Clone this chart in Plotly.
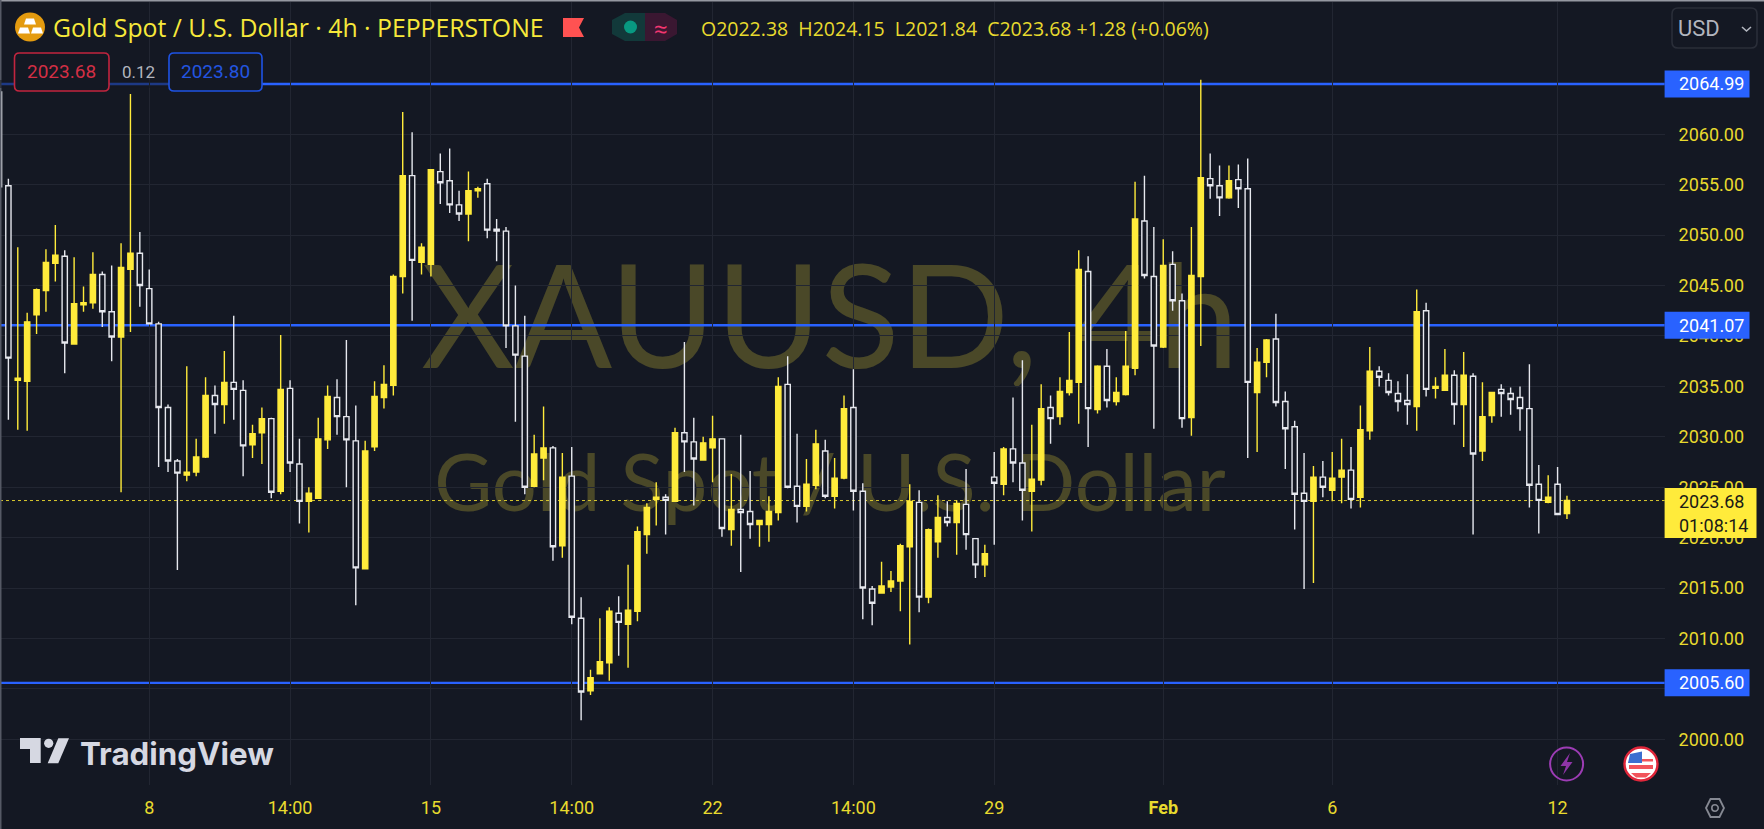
import plotly.graph_objects as go

W, H = 1764, 829

BAR_INDEX = list(range(-1, 167))
OPEN = [2064.2, 2054.9, 2035.6, 2035.5, 2042.1, 2044.5, 2047.2, 2047.9, 2039.2, 2043.1,
        2043.3, 2046.1, 2042.4, 2039.9, 2046.6, 2048.2, 2044.7, 2041.2, 2032.9, 2027.6,
        2026.2, 2026.5, 2028.0, 2034.1, 2033.2, 2035.4, 2034.6, 2029.2, 2030.4, 2031.8,
        2024.6, 2034.8, 2027.3, 2023.6, 2023.9, 2029.7, 2033.9, 2032.0, 2029.6, 2016.9,
        2029.0, 2033.9, 2035.1, 2045.9, 2055.9, 2047.3, 2047.1, 2056.3, 2055.4, 2053.0,
        2052.1, 2054.4, 2055.1, 2050.6, 2050.4, 2041.0, 2038.0, 2025.1, 2027.9, 2028.9,
        2019.2, 2026.1, 2012.0, 2004.8, 2006.5, 2007.6, 2012.5, 2011.4, 2012.7, 2020.3,
        2023.8, 2024.0, 2023.6, 2030.4, 2029.5, 2027.7, 2028.9, 2029.8, 2020.8, 2022.8,
        2022.6, 2021.3, 2021.3, 2022.5, 2035.2, 2025.1, 2023.1, 2025.2, 2028.6, 2024.1,
        2025.9, 2032.9, 2024.6, 2014.9, 2014.5, 2015.1, 2015.7, 2019.1, 2023.5, 2014.1,
        2019.6, 2022.0, 2021.5, 2023.3, 2019.9, 2017.3, 2026.0, 2025.3, 2028.8, 2027.4,
        2024.6, 2025.7, 2032.9, 2032.0, 2034.4, 2035.4, 2046.4, 2032.7, 2037.0, 2033.5,
        2034.2, 2036.8, 2051.4, 2045.9, 2038.9, 2047.1, 2043.5, 2031.9, 2045.9, 2055.6,
        2054.9, 2053.7, 2055.5, 2054.6, 2034.4, 2037.4, 2039.7, 2033.5, 2031.0, 2024.4,
        2023.6, 2026.0, 2024.7, 2026.0, 2026.7, 2024.0, 2030.6, 2036.5, 2035.6, 2034.3,
        2033.6, 2033.0, 2042.5, 2034.8, 2034.6, 2036.1, 2033.2, 2036.0, 2028.6, 2032.1,
        2034.7, 2034.3, 2033.9, 2032.8, 2025.3, 2023.5, 2025.3, 2022.38]
HIGH = [2064.3, 2055.6, 2048.8, 2042.3, 2044.7, 2048.6, 2051.0, 2048.5, 2047.8, 2044.9,
        2048.3, 2046.4, 2047.0, 2049.2, 2064.0, 2050.3, 2046.6, 2041.4, 2033.2, 2027.8,
        2037.0, 2029.8, 2035.9, 2035.1, 2038.5, 2042.0, 2035.6, 2031.2, 2032.9, 2031.9,
        2040.1, 2035.6, 2029.8, 2025.0, 2031.9, 2035.1, 2035.7, 2039.6, 2033.1, 2029.6,
        2035.5, 2037.1, 2046.1, 2062.2, 2060.2, 2049.2, 2056.5, 2058.1, 2058.6, 2054.4,
        2056.3, 2054.8, 2055.6, 2051.6, 2050.8, 2045.0, 2042.0, 2030.2, 2033.0, 2029.1,
        2028.4, 2029.0, 2014.1, 2006.9, 2012.0, 2013.1, 2014.2, 2017.3, 2021.1, 2023.4,
        2025.5, 2024.3, 2030.9, 2039.4, 2031.9, 2030.0, 2032.1, 2029.8, 2026.3, 2030.2,
        2026.6, 2021.7, 2024.1, 2035.9, 2038.0, 2030.3, 2027.8, 2030.7, 2029.7, 2027.9,
        2034.1, 2036.7, 2025.4, 2015.2, 2017.6, 2016.7, 2019.4, 2025.3, 2024.7, 2020.9,
        2024.2, 2023.6, 2023.7, 2026.8, 2019.9, 2019.3, 2028.5, 2029.0, 2033.9, 2037.6,
        2031.2, 2035.2, 2034.1, 2035.9, 2040.4, 2048.5, 2047.9, 2037.1, 2038.7, 2035.9,
        2040.5, 2055.3, 2055.9, 2050.8, 2049.6, 2048.4, 2044.2, 2050.8, 2065.4, 2058.1,
        2056.9, 2056.9, 2057.0, 2057.6, 2038.8, 2039.7, 2042.2, 2034.5, 2031.6, 2028.4,
        2027.1, 2027.6, 2028.5, 2029.8, 2029.0, 2033.1, 2038.9, 2037.0, 2036.3, 2035.5,
        2036.2, 2044.6, 2043.3, 2035.9, 2038.7, 2036.6, 2038.4, 2036.3, 2035.4, 2034.4,
        2035.2, 2034.9, 2035.0, 2037.2, 2027.2, 2026.2, 2027.0, 2024.15]
LOW = [2054.7, 2031.7, 2030.7, 2030.6, 2040.2, 2042.4, 2045.4, 2036.3, 2039.2, 2042.4,
       2042.7, 2040.9, 2037.5, 2024.5, 2040.4, 2042.9, 2041.2, 2027.0, 2026.5, 2016.8,
       2025.6, 2026.1, 2027.9, 2030.3, 2031.3, 2031.7, 2026.1, 2027.9, 2027.3, 2023.9,
       2024.3, 2026.5, 2021.4, 2020.5, 2023.9, 2028.8, 2030.2, 2025.0, 2013.3, 2016.9,
       2028.6, 2032.8, 2034.1, 2044.2, 2041.5, 2046.1, 2045.9, 2053.1, 2052.2, 2051.4,
       2049.4, 2053.7, 2049.7, 2047.4, 2038.8, 2031.5, 2024.3, 2025.0, 2025.7, 2017.7,
       2018.0, 2011.4, 2001.9, 2004.4, 2006.5, 2005.8, 2008.3, 2007.1, 2011.7, 2018.4,
       2021.2, 2020.3, 2023.6, 2026.5, 2023.2, 2027.7, 2025.5, 2020.1, 2019.2, 2016.6,
       2019.9, 2019.1, 2019.6, 2021.7, 2024.9, 2021.5, 2022.6, 2024.8, 2023.9, 2022.9,
       2025.8, 2022.7, 2011.9, 2011.3, 2014.5, 2014.6, 2012.7, 2009.4, 2012.6, 2013.5,
       2018.0, 2021.1, 2018.3, 2018.8, 2016.0, 2016.1, 2019.3, 2024.2, 2025.5, 2021.7,
       2020.6, 2025.2, 2029.3, 2031.2, 2034.1, 2031.3, 2029.0, 2032.3, 2032.9, 2033.1,
       2034.1, 2036.1, 2045.7, 2030.8, 2038.8, 2042.5, 2030.9, 2030.1, 2039.0, 2053.6,
       2051.9, 2053.6, 2052.7, 2027.9, 2028.5, 2035.9, 2033.0, 2026.8, 2020.8, 2014.9,
       2015.5, 2024.0, 2023.6, 2023.4, 2022.9, 2023.0, 2029.7, 2035.0, 2034.1, 2032.5,
       2031.2, 2030.6, 2034.0, 2033.8, 2034.6, 2031.2, 2029.0, 2020.3, 2027.6, 2031.4,
       2032.0, 2032.2, 2030.6, 2023.0, 2020.4, 2023.4, 2022.3, 2021.84]
CLOSE = [2054.8, 2037.8, 2035.8, 2041.4, 2044.6, 2047.3, 2048.0, 2039.3, 2043.2, 2043.3,
         2046.1, 2042.4, 2039.9, 2046.8, 2048.2, 2045.0, 2041.2, 2032.9, 2027.6, 2026.4,
         2026.5, 2028.0, 2034.1, 2033.2, 2035.4, 2034.7, 2029.1, 2030.3, 2031.8, 2024.5,
         2034.7, 2027.4, 2023.6, 2024.4, 2029.8, 2034.0, 2032.0, 2029.7, 2017.0, 2028.6,
         2034.0, 2035.2, 2045.9, 2055.9, 2047.5, 2048.8, 2056.5, 2055.2, 2053.0, 2052.1,
         2054.4, 2054.6, 2050.5, 2050.4, 2041.0, 2038.1, 2025.0, 2028.3, 2028.9, 2019.1,
         2026.0, 2012.1, 2004.7, 2006.1, 2007.7, 2012.7, 2011.6, 2012.8, 2020.6, 2023.0,
         2024.0, 2023.7, 2030.4, 2029.5, 2027.8, 2029.4, 2029.8, 2020.9, 2022.8, 2022.5,
         2021.3, 2021.7, 2022.6, 2035.0, 2025.0, 2023.1, 2025.3, 2029.3, 2024.1, 2025.9,
         2032.8, 2024.6, 2015.0, 2013.5, 2015.2, 2015.7, 2019.2, 2023.6, 2014.1, 2020.8,
         2022.0, 2021.5, 2023.4, 2020.3, 2017.3, 2018.4, 2025.4, 2028.8, 2027.4, 2024.7,
         2025.8, 2032.8, 2031.8, 2034.5, 2035.6, 2046.6, 2032.8, 2037.0, 2033.6, 2034.4,
         2037.0, 2051.6, 2046.0, 2039.0, 2047.0, 2043.5, 2031.8, 2046.0, 2055.7, 2054.9,
         2053.7, 2055.4, 2054.6, 2035.4, 2037.4, 2039.6, 2033.4, 2030.8, 2024.3, 2023.6,
         2026.0, 2025.0, 2025.9, 2026.7, 2023.8, 2030.7, 2036.5, 2035.9, 2034.4, 2033.5,
         2033.2, 2042.4, 2034.7, 2035.0, 2036.1, 2033.2, 2036.1, 2028.3, 2032.0, 2034.4,
         2034.3, 2033.7, 2032.8, 2025.2, 2023.7, 2024.0, 2022.3, 2023.68]

PRICE_TICKS = [2000, 2005, 2010, 2015, 2020, 2025, 2030, 2035, 2040, 2045, 2050, 2055, 2060]
PRICE_LABELS = ["2000.00", "2005.00", "2010.00", "2015.00", "2020.00", "2025.00", "2030.00",
                "2035.00", "2040.00", "2045.00", "2050.00", "2055.00", "2060.00"]
TIME_TICKS = [15, 30, 45, 60, 75, 90, 105, 123, 141, 165]
TIME_LABELS = ["8", "14:00", "15", "14:00", "22", "14:00", "29", "<b>Feb</b>", "6", "12"]
LEVELS = [2064.99, 2041.07, 2005.60]
LAST_PRICE = 2023.68

BG = "#141823"
YELLOW = "#FFEB3B"
TICK_YEL = "#E8DA2E"
BLUE = "#2962FF"
GRID = "#222632"
AXIS_RIGHT = 1664.6
AXIS_BOTTOM = 785.0
FONT = "Open Sans"
MARK = "Lato"
AXFONT = "Roboto"


def X(px):
    return px / W


def Y(py):
    return 1 - py / H


def poly(points, fill=None, line=None, lw=1, layer="above"):
    path = "M " + " L ".join(f"{X(a):.5f},{Y(b):.5f}" for a, b in points) + " Z"
    return dict(type="path", xref="paper", yref="paper", path=path, fillcolor=fill or "rgba(0,0,0,0)",
                line=dict(color=line or "rgba(0,0,0,0)", width=lw if line else 0), layer=layer)


def rect(x0, y0, x1, y1, fill=None, line=None, lw=1, layer="above"):
    return dict(type="rect", xref="paper", yref="paper", x0=X(x0), x1=X(x1), y0=Y(y0), y1=Y(y1),
                fillcolor=fill or "rgba(0,0,0,0)",
                line=dict(color=line or "rgba(0,0,0,0)", width=lw if line else 0), layer=layer)


def round_rect(x0, y0, x1, y1, r, fill=None, line=None, lw=1.5):
    pts = (f"M {X(x0 + r):.5f},{Y(y0):.5f} L {X(x1 - r):.5f},{Y(y0):.5f} "
           f"Q {X(x1):.5f},{Y(y0):.5f} {X(x1):.5f},{Y(y0 + r):.5f} L {X(x1):.5f},{Y(y1 - r):.5f} "
           f"Q {X(x1):.5f},{Y(y1):.5f} {X(x1 - r):.5f},{Y(y1):.5f} L {X(x0 + r):.5f},{Y(y1):.5f} "
           f"Q {X(x0):.5f},{Y(y1):.5f} {X(x0):.5f},{Y(y1 - r):.5f} L {X(x0):.5f},{Y(y0 + r):.5f} "
           f"Q {X(x0):.5f},{Y(y0):.5f} {X(x0 + r):.5f},{Y(y0):.5f} Z")
    return dict(type="path", xref="paper", yref="paper", path=pts, fillcolor=fill or "rgba(0,0,0,0)",
                line=dict(color=line or "rgba(0,0,0,0)", width=lw if line else 0), layer="above")


def circle(cx, cy, rx, ry, fill=None, line=None, lw=1.5):
    return dict(type="circle", xref="paper", yref="paper", x0=X(cx - rx), x1=X(cx + rx), y0=Y(cy + ry), y1=Y(cy - ry),
                fillcolor=fill or "rgba(0,0,0,0)",
                line=dict(color=line or "rgba(0,0,0,0)", width=lw if line else 0), layer="above")


def text(px, py, s, size, color, anchor="left", family=FONT, **kw):
    return dict(xref="paper", yref="paper", x=X(px), y=Y(py), text=s, showarrow=False, xanchor=anchor,
                yanchor="middle", font=dict(size=size, color=color, family=family), **kw)


fig = go.Figure()
fig.add_trace(go.Candlestick(
    x=BAR_INDEX, open=OPEN, high=HIGH, low=LOW, close=CLOSE,
    increasing=dict(line=dict(color=YELLOW, width=1.4), fillcolor=YELLOW),
    decreasing=dict(line=dict(color="#E6E8EE", width=1.4), fillcolor=BG),
    whiskerwidth=0, showlegend=False, hoverinfo="skip",
))

shapes = []
# watermark (below candles)
for x0, y0, x1, y1, s, size in [(420, 230, 1240, 390, "XAUUSD, 4h", 144), (420, 433.5, 1240, 523.5, "Gold Spot / U.S. Dollar", 79.5)]:
    shapes.append(dict(type="rect", xref="paper", yref="paper", x0=X(x0), x1=X(x1), y0=Y(y1), y1=Y(y0),
                       line=dict(width=0), fillcolor="rgba(0,0,0,0)", layer="below",
                       label=dict(text=s, textposition="middle center",
                                  font=dict(size=size, family=MARK, color="rgba(255,235,59,0.23)"))))
# levels
for lv in LEVELS:
    shapes.append(dict(type="line", xref="paper", yref="y", x0=0, x1=X(AXIS_RIGHT), y0=lv, y1=lv,
                       line=dict(color=BLUE, width=2.4), layer="below"))
shapes.append(dict(type="line", xref="paper", yref="y", x0=0, x1=X(AXIS_RIGHT), y0=LAST_PRICE, y1=LAST_PRICE,
                   line=dict(color="#D9C92F", width=1, dash="dot"), layer="below"))
# frame
shapes.append(rect(0, 0, W, 1.5, fill="#9598A1"))
shapes.append(rect(0, 0, 1.5, H, fill="#555965"))
# gold icon
shapes.append(circle(30, 27, 15, 14.5, fill="#E49B0F"))
for cx, cy in [(30, 21.5), (24, 30.5), (37, 30.5)]:
    shapes.append(poly([(cx - 4, cy - 3), (cx + 4, cy - 3), (cx + 6, cy + 3), (cx - 6, cy + 3)], fill="#FFFFFF"))
# flag
shapes.append(poly([(563, 18), (584, 18), (579, 27.5), (584, 37), (563, 37)], fill="#FF5252"))
# status pill
shapes.append(poly([(625, 13), (645, 13), (645, 41), (625, 41), (612, 34), (612, 20)], fill="#12393A"))
shapes.append(poly([(645, 13), (665, 13), (677, 20), (677, 34), (665, 41), (645, 41)], fill="#3A1731"))
shapes.append(circle(630.5, 27, 6.5, 6.5, fill="#089981"))
# left quote boxes
shapes.append(rect(0, 80, 262, 88, fill="rgba(20,24,35,0.55)"))
shapes.append(round_rect(14.5, 53, 109, 91, 5, fill=BG, line="#C2253F", lw=1.6))
shapes.append(round_rect(169, 53, 262, 91, 5, fill=BG, line="#1E53E5", lw=1.6))
# USD button
shapes.append(round_rect(1672, 8, 1757, 48, 6, line="#2A2E39", lw=1.6))
shapes.append(poly([(1742, 27), (1746.5, 31), (1751, 27), (1746.5, 31)], line="#B2B5BE", lw=1.6))
# TradingView logo
shapes.append(poly([(20, 738), (40.7, 738), (40.7, 763), (30, 763), (30, 749), (20, 749)], fill="#D6D8E2"))
shapes.append(circle(48.7, 743.3, 4.6, 4.6, fill="#D6D8E2"))
shapes.append(poly([(58.3, 738.3), (69, 738.3), (58.3, 763.3), (47.7, 763.3)], fill="#D6D8E2"))
# bolt icon
shapes.append(circle(1566.6, 764, 16.5, 16.5, line="#9C3CB4", lw=2))
shapes.append(poly([(1570, 753), (1560.5, 766), (1566, 766), (1563, 775), (1572.5, 762), (1567, 762)], fill="#8E35A8"))
# US flag icon
shapes.append(circle(1641, 764, 16.5, 16.5, fill="#FFFFFF", line="#E0263A", lw=2.4))
shapes.append(poly([(1629, 765), (1653, 765), (1653, 769), (1629, 769)], fill="#F2545B"))
shapes.append(poly([(1631, 773), (1651, 773), (1646, 777.5), (1636, 777.5)], fill="#F2545B"))
shapes.append(poly([(1629, 759), (1653, 759), (1653, 761.5), (1629, 761.5)], fill="#F2545B"))
shapes.append(poly([(1630, 754), (1642, 751.5), (1642, 763), (1628, 763)], fill="#3C6FD0"))
# settings hexagon
shapes.append(poly([(1706, 808), (1710.5, 799), (1719.5, 799), (1724, 808), (1719.5, 817), (1710.5, 817)], line="#868993", lw=1.8))
shapes.append(circle(1715, 808, 3.2, 3.2, line="#868993", lw=1.6))
# price-axis tags
for lv in LEVELS:
    shapes.append(dict(type="rect", xref="paper", yref="y", x0=X(AXIS_RIGHT), x1=X(1749.5), y0=lv - 1.34, y1=lv + 1.34,
                       fillcolor=BLUE, line=dict(width=0), layer="above"))
shapes.append(rect(AXIS_RIGHT, 488, 1756.5, 538, fill=YELLOW))

ann = [
    text(51, 27, "Gold Spot / U.S. Dollar · 4h · PEPPERSTONE", 24.8, "#F7E83A"),
    text(699, 28, "O2022.38  H2024.15  L2021.84  C2023.68 +1.28 (+0.06%)", 19.5, TICK_YEL),
    text(660.5, 28, "≈", 24, "#F23670", anchor="center"),
    text(61.5, 72, "2023.68", 19, "#D32F45", anchor="center", family=AXFONT),
    text(138.5, 72, "0.12", 17, "#B2B5BE", anchor="center", family=AXFONT),
    text(215.5, 72, "2023.80", 19, "#2355E0", anchor="center", family=AXFONT),
    text(1676, 29, "USD", 22, "#B2B5BE", family=AXFONT),
    text(78, 754, "<b>TradingView</b>", 31.3, "#D6D8E2", family="Inter"),
    text(1677, 501.7, f"{LAST_PRICE:.2f}", 18, "#1A1A16", family=AXFONT),
    text(1677, 525, "01:08:14", 18, "#1A1A16", family=AXFONT),
]
for lv in LEVELS:
    ann.append(dict(xref="paper", yref="y", x=X(1677), y=lv, xanchor="left", yanchor="middle",
                    text=f"{lv:.2f}", showarrow=False, font=dict(size=18, color="#FFFFFF", family=AXFONT)))

fig.update_layout(
    width=W, height=H, margin=dict(l=0, r=0, t=0, b=0),
    paper_bgcolor=BG, plot_bgcolor=BG, showlegend=False, dragmode=False,
    boxgap=0.2,
    shapes=shapes, annotations=ann,
    xaxis=dict(domain=[0, X(AXIS_RIGHT)], range=[-0.894, 176.4], type="linear", rangeslider=dict(visible=False),
               tickmode="array", tickvals=TIME_TICKS, ticktext=TIME_LABELS, showgrid=True, gridcolor=GRID, gridwidth=1,
               zeroline=False, showline=False, ticks="", ticklabelstandoff=10,
               tickfont=dict(size=18, color=TICK_YEL, family=AXFONT), anchor="y"),
    yaxis=dict(domain=[Y(AXIS_BOTTOM), Y(2)], range=[1995.47, 2073.12], side="right", tickmode="array",
               tickvals=PRICE_TICKS, ticktext=PRICE_LABELS, showgrid=True, gridcolor=GRID, gridwidth=1,
               zeroline=False, showline=False, ticks="", ticklabelstandoff=13,
               tickfont=dict(size=18, color=TICK_YEL, family=AXFONT), anchor="x"),
)

fig.write_html("out.html", config=dict(displayModeBar=False, responsive=False),
               post_script="document.body.style.margin='0';document.body.style.overflow='hidden';")
